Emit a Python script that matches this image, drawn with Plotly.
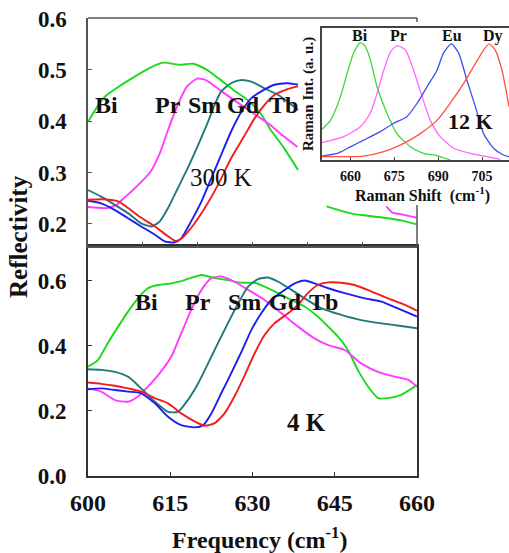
import plotly.graph_objects as go

# ---------------- 300 K reflectivity (upper panel) ----------------
bi_300_f = [600, 601.5, 603, 605.3, 608.2, 611.3, 613.7, 616.8, 619.2, 621.7, 624.1, 626.5, 629, 631.5, 633.2, 635.6, 638.3]
bi_300_r = [0.399, 0.425, 0.447, 0.465, 0.485, 0.504, 0.514, 0.510, 0.512, 0.500, 0.481, 0.461, 0.442, 0.415, 0.385, 0.350, 0.305]
bi_300_tail_f = [643.5, 646, 648.6, 651, 654.7, 657.5, 660]
bi_300_tail_r = [0.234, 0.226, 0.219, 0.216, 0.211, 0.206, 0.199]

pr_300_f = [600, 603.5, 605.2, 606.5, 608.2, 611.3, 613.1, 614.4, 615.6, 616.8, 618, 619.9, 621.5, 623.5, 626.5, 630.1, 633.2, 635.5, 638.2]
pr_300_r = [0.233, 0.231, 0.237, 0.250, 0.266, 0.300, 0.338, 0.377, 0.412, 0.442, 0.467, 0.483, 0.480, 0.465, 0.442, 0.416, 0.393, 0.372, 0.350]
pr_300_tail_f = [654.4, 655.5, 657, 660]
pr_300_tail_r = [0.234, 0.222, 0.219, 0.212]

sm_300_f = [600, 602.4, 604.9, 607.3, 609.7, 611.6, 613.1, 614.6, 616.4, 618.2, 620.1, 621.9, 623.1, 624.3, 626.1, 627.8, 629.8, 632.2, 634.7, 637.1, 638.3]
sm_300_r = [0.266, 0.253, 0.237, 0.221, 0.201, 0.195, 0.205, 0.231, 0.270, 0.309, 0.354, 0.399, 0.432, 0.458, 0.474, 0.480, 0.477, 0.464, 0.451, 0.432, 0.422]

gd_300_f = [600, 602.4, 604.9, 607.3, 609.7, 612.2, 614, 615.8, 617, 618.8, 620.7, 622.5, 624.3, 626.1, 628, 629.8, 631.6, 634, 636.5, 638.3]
gd_300_r = [0.245, 0.240, 0.227, 0.211, 0.195, 0.179, 0.166, 0.164, 0.172, 0.205, 0.244, 0.289, 0.335, 0.380, 0.419, 0.445, 0.458, 0.471, 0.474, 0.471]

tb_300_f = [600, 602.4, 605.5, 607.3, 609.7, 612.2, 614.6, 615.9, 617, 618.8, 621.3, 623.7, 626.1, 628.6, 630.4, 632.2, 634, 636.5, 638.3]
tb_300_r = [0.247, 0.248, 0.244, 0.231, 0.212, 0.195, 0.176, 0.167, 0.171, 0.192, 0.231, 0.276, 0.328, 0.373, 0.406, 0.432, 0.451, 0.463, 0.468]

# ---------------- 4 K reflectivity (lower panel) ----------------
bi_4_f = [600, 601.8, 603.6, 605.5, 607.3, 609.1, 610.9, 612.8, 615.2, 617.6, 620.7, 623.1, 625.5, 628, 630.4, 632.2, 634.7, 637.1, 639.5, 641.9, 643.8, 645.6, 647.4, 649.2, 651.1, 652.9, 654.7, 657.1, 660]
bi_4_r = [0.335, 0.355, 0.407, 0.458, 0.504, 0.545, 0.576, 0.586, 0.591, 0.601, 0.617, 0.607, 0.601, 0.593, 0.593, 0.581, 0.561, 0.540, 0.520, 0.489, 0.458, 0.427, 0.386, 0.325, 0.273, 0.238, 0.238, 0.248, 0.278]

pr_4_f = [600, 602.4, 604.9, 607.3, 609.1, 610.9, 612.8, 615.2, 617, 618.8, 620.7, 622.5, 624.3, 626.7, 629.2, 632.2, 635.3, 638.3, 641.3, 643.8, 646.8, 649.8, 652.9, 655.9, 658.4, 660]
pr_4_r = [0.268, 0.258, 0.232, 0.227, 0.243, 0.273, 0.309, 0.366, 0.437, 0.509, 0.571, 0.607, 0.612, 0.596, 0.571, 0.540, 0.499, 0.458, 0.422, 0.401, 0.386, 0.345, 0.319, 0.304, 0.294, 0.273]

sm_4_f = [600, 602.4, 604.9, 607.3, 609.7, 612.2, 614.6, 616.4, 618.2, 620.1, 621.9, 623.7, 625.5, 627.4, 629.2, 631, 632.8, 634.7, 637.1, 639.5, 642.6, 646.2, 649.8, 653.5, 657.1, 660]
sm_4_r = [0.327, 0.325, 0.319, 0.304, 0.268, 0.227, 0.196, 0.196, 0.232, 0.284, 0.345, 0.407, 0.468, 0.530, 0.581, 0.604, 0.609, 0.596, 0.571, 0.545, 0.514, 0.494, 0.478, 0.468, 0.460, 0.453]

gd_4_f = [600, 602.4, 604.9, 607.3, 609.7, 612.2, 614.6, 617, 619.5, 621, 622.5, 624.3, 626.1, 628, 629.8, 631.6, 633.4, 635.9, 637.7, 639.5, 641.3, 643.8, 646.8, 650.5, 653.5, 656.5, 660]
gd_4_r = [0.265, 0.268, 0.263, 0.258, 0.253, 0.222, 0.181, 0.155, 0.148, 0.155, 0.191, 0.253, 0.314, 0.381, 0.448, 0.499, 0.540, 0.571, 0.591, 0.600, 0.591, 0.576, 0.561, 0.545, 0.535, 0.514, 0.489]

tb_4_f = [600, 602.4, 604.9, 607.3, 609.7, 612.2, 614.6, 617, 619.5, 621.3, 623.1, 624.9, 626.7, 628.6, 630.4, 632.2, 634, 636.5, 638.3, 640.1, 641.9, 643.8, 646.2, 648.6, 651.7, 654.7, 657.8, 660]
tb_4_r = [0.286, 0.282, 0.276, 0.268, 0.258, 0.238, 0.222, 0.191, 0.166, 0.153, 0.161, 0.191, 0.243, 0.309, 0.376, 0.432, 0.468, 0.499, 0.525, 0.561, 0.586, 0.594, 0.593, 0.586, 0.566, 0.545, 0.525, 0.507]

# ---------------- Raman spectra at 12 K (inset) ----------------
raman_bi_f = [650.3, 653.2, 656.6, 658.9, 661.1, 663.4, 665.1, 666.8, 669.1, 672.5, 675.9, 680.5, 685, 689.6, 694.1]
raman_bi_i = [0.233, 0.30, 0.48, 0.657, 0.81, 0.889, 0.86, 0.76, 0.555, 0.354, 0.20, 0.10, 0.05, 0.033, 0.0]

raman_pr_f = [650.3, 657.7, 663.4, 666.8, 669.1, 671.4, 673.7, 676.1, 678.8, 681.6, 684.5, 687.3, 690.7, 695.3, 701, 706.7, 711.2]
raman_pr_i = [0.131, 0.177, 0.252, 0.354, 0.505, 0.68, 0.82, 0.866, 0.833, 0.68, 0.48, 0.30, 0.177, 0.089, 0.05, 0.025, 0.005]

raman_eu_f = [650.3, 655.5, 660, 664.5, 670.2, 674.8, 679.3, 682.8, 686.2, 689.6, 691.8, 694.5, 697, 699.8, 702.7, 705.5, 708.9, 712.3, 714.2]
raman_eu_i = [0.03, 0.05, 0.10, 0.15, 0.215, 0.278, 0.328, 0.43, 0.555, 0.68, 0.81, 0.879, 0.81, 0.606, 0.404, 0.20, 0.089, 0.038, 0.025]

raman_dy_f = [650.3, 664.5, 671.4, 678.2, 683.9, 689.6, 694.1, 698.7, 702.7, 705.5, 707.4, 709.5, 711.8, 714.2]
raman_dy_i = [0.025, 0.03, 0.063, 0.126, 0.20, 0.30, 0.43, 0.58, 0.73, 0.833, 0.879, 0.833, 0.68, 0.404]

ions_main = ["Bi", "Pr", "Sm", "Gd", "Tb"]
ions_inset = ["Bi", "Pr", "Eu", "Dy"]
freq_ticks = [600, 615, 630, 645, 660]
raman_ticks = [660, 675, 690, 705]

GREEN, PINK, TEAL, BLUE, RED = "#1ed81e", "#ff3cff", "#1f7a7a", "#1e1ef0", "#f01e1e"
IN_GREEN, IN_PINK, IN_BLUE, IN_RED = "#3ad83a", "#ff66ff", "#3a4ef0", "#ff5040"
SERIF = "Liberation Serif"
INK = "#111"

W, H = 509, 553
def px(x):
    return x / W
def py(y):
    return 1 - y / H

def bfont(size, weight="bold"):
    return dict(family=SERIF, size=size, color=INK, weight=weight)

fig = go.Figure()

def with_gap(f1, r1, f2, r2):
    return f1 + [None] + f2, r1 + [None] + r2

upper = [
    with_gap(bi_300_f, bi_300_r, bi_300_tail_f, bi_300_tail_r) + (GREEN,),
    with_gap(pr_300_f, pr_300_r, pr_300_tail_f, pr_300_tail_r) + (PINK,),
    (sm_300_f, sm_300_r, TEAL),
    (gd_300_f, gd_300_r, BLUE),
    (tb_300_f, tb_300_r, RED),
]
for f, r, c in upper:
    fig.add_trace(go.Scatter(x=f, y=r, mode="lines", line=dict(color=c, width=1.9, shape="spline", smoothing=0.6),
                             xaxis="x2", yaxis="y2", showlegend=False, connectgaps=False))

lower = [(bi_4_f, bi_4_r, GREEN), (pr_4_f, pr_4_r, PINK), (sm_4_f, sm_4_r, TEAL),
         (gd_4_f, gd_4_r, BLUE), (tb_4_f, tb_4_r, RED)]
for f, r, c in lower:
    fig.add_trace(go.Scatter(x=f, y=r, mode="lines", line=dict(color=c, width=1.9, shape="spline", smoothing=0.6),
                             xaxis="x", yaxis="y", showlegend=False))

inset = [(raman_bi_f, raman_bi_i, IN_GREEN), (raman_pr_f, raman_pr_i, IN_PINK),
         (raman_eu_f, raman_eu_i, IN_BLUE), (raman_dy_f, raman_dy_i, IN_RED)]
for f, r, c in inset:
    fig.add_trace(go.Scatter(x=f, y=r, mode="lines", line=dict(color=c, width=1.3, shape="spline", smoothing=0.6),
                             xaxis="x3", yaxis="y3", showlegend=False))

xdom = [px(88), px(417)]
common = dict(showgrid=False, zeroline=False, automargin=False)

fig.update_layout(
    template="none",
    width=W, height=H,
    margin=dict(l=0, r=0, t=0, b=0, autoexpand=False),
    paper_bgcolor="white", plot_bgcolor="white",
    xaxis=dict(domain=xdom, anchor="y", range=[600, 660], tickvals=freq_ticks,
               ticks="inside", ticklen=4, tickcolor="#333",
               showline=True, linecolor="#333", linewidth=2, mirror=True,
               tickfont=bfont(24), ticklabelstandoff=5, **common),
    yaxis=dict(domain=[py(475.5), py(246)], anchor="x", range=[0, 0.706], tickvals=[0.0, 0.2, 0.4, 0.6],
               ticktext=["0.0", "0.2", "0.4", "0.6"],
               ticks="inside", ticklen=4, tickcolor="#333",
               showline=True, linecolor="#333", linewidth=2, mirror=True,
               tickfont=bfont(23), ticklabelstandoff=15, **common),
    xaxis2=dict(domain=xdom, anchor="y2", range=[600, 660], dtick=10, tick0=600,
                ticks="inside", ticklen=4, tickcolor="#555", showticklabels=False,
                showline=True, linecolor="#555", linewidth=1.5, **common),
    yaxis2=dict(domain=[py(246), py(18)], anchor="x2", range=[0.157, 0.601], tickvals=[0.2, 0.3, 0.4, 0.5, 0.6],
                ticks="inside", ticklen=4, tickcolor="#555",
                showline=True, linecolor="#555", linewidth=1.5,
                tickfont=bfont(23), ticklabelstandoff=15, **common),
    xaxis3=dict(domain=[px(322), 1.0], anchor="y3", range=[650.3, 714.2], tickvals=raman_ticks,
                ticks="inside", ticklen=3, tickcolor="#444",
                showline=True, linecolor="#444", linewidth=1.5, mirror=True,
                tickfont=bfont(14), ticklabelstandoff=2, **common),
    yaxis3=dict(domain=[py(160), py(28)], anchor="x3", range=[0, 1.0], showticklabels=False,
                ticks="", showline=True, linecolor="#444", linewidth=1.5, **common),
)

# remaining frame of the upper panel (top edge and the visible parts of the right edge)
frame = dict(type="line", xref="paper", yref="paper", line=dict(color="#555", width=1.5))
fig.add_shape(**frame, x0=px(88), x1=px(417), y0=py(18), y1=py(18))
fig.add_shape(**frame, x0=px(417), x1=px(417), y0=py(18), y1=py(22))
fig.add_shape(**frame, x0=px(417), x1=px(417), y0=py(205), y1=py(246))

centered = dict(showarrow=False, xanchor="center", yanchor="middle")
annotations = []
for ion, xv in zip(ions_main, [603.3, 614.6, 621.3, 628.3, 635.6]):
    annotations.append(dict(x=xv, y=0.432, xref="x2", yref="y2", text=ion, font=bfont(24), **centered))
for ion, xv in zip(ions_main, [610.6, 620.1, 628.6, 636.1, 642.9]):
    annotations.append(dict(x=xv, y=0.534, xref="x", yref="y", text=ion, font=bfont(24), **centered))
for ion, xv in zip(ions_inset, [663.4, 676.3, 694.8, 708.8]):
    annotations.append(dict(x=xv, y=0.94, xref="x3", yref="y3", text=ion, font=bfont(16), **centered))
annotations += [
    dict(x=624.3, y=0.290, xref="x2", yref="y2", text="300 K", font=bfont(25, "normal"), **centered),
    dict(x=639.8, y=0.162, xref="x", yref="y", text="4 K", font=bfont(25), **centered),
    dict(x=701, y=0.29, xref="x3", yref="y3", text="12 K", font=bfont(22), **centered),
    dict(x=px(18), y=py(237), xref="paper", yref="paper", text="Reflectivity", textangle=-90,
         font=bfont(25), **centered),
    dict(x=px(260), y=py(538), xref="paper", yref="paper", text="Frequency (cm<sup>-1</sup>)",
         font=bfont(24), **centered),
    dict(x=px(308), y=py(94), xref="paper", yref="paper", text="Raman Int. (a. u.)", textangle=-90,
         font=bfont(15), **centered),
    dict(x=px(422), y=py(194), xref="paper", yref="paper", text="Raman Shift  (cm<sup>-1</sup>)",
         font=bfont(16), **centered),
]
fig.update_layout(annotations=annotations)

fig.write_html("out.html")
